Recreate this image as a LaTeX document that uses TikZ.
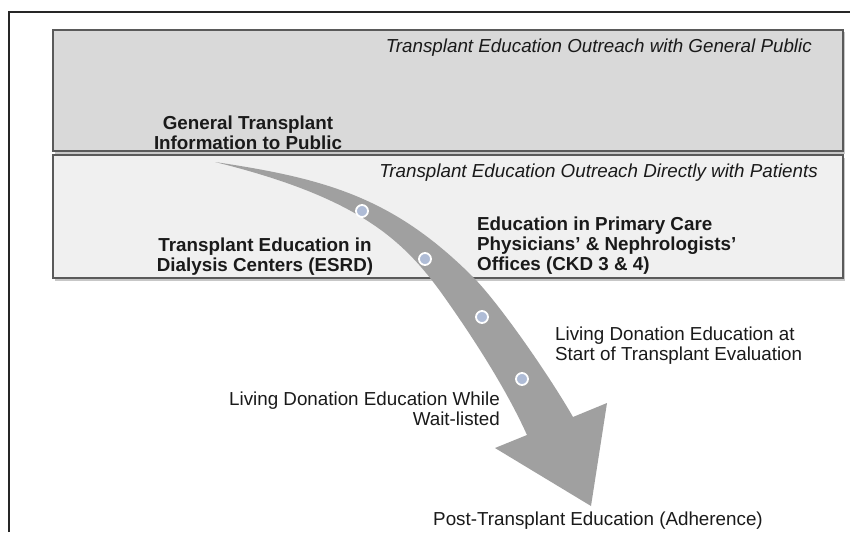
\documentclass[tikz,border=0pt]{standalone}
\usepackage{fontspec}
\setmainfont{Liberation Sans}
\definecolor{upperfill}{HTML}{D9D9D9}
\definecolor{lowerfill}{HTML}{F0F0F0}
\definecolor{boxline}{HTML}{5A5A5A}
\definecolor{arrowgray}{HTML}{A0A0A0}
\definecolor{dotblue}{HTML}{AFBCD6}
\definecolor{frameline}{HTML}{262626}
\definecolor{txt}{HTML}{1A1A1A}
\begin{document}
\begin{tikzpicture}[x=1pt,y=-1pt,
  panel/.style={draw=boxline, line width=1.2pt},
  shadowbox/.style={fill=black, opacity=0.22},
  band/.style={fill=arrowgray},
  dotmark/.style={circle, fill=dotblue, draw=white, line width=1.8pt, minimum size=12pt, inner sep=0pt},
  lbl/.style={inner sep=0pt, text=txt, font=\fontsize{18.8}{20}\selectfont},
  ital/.style={lbl, font=\fontsize{18.8}{20}\selectfont\itshape},
  bld/.style={lbl, font=\fontsize{18.8}{20}\selectfont\bfseries}]
\useasboundingbox (0,0) rectangle (850,532);
\fill[white] (0,0) rectangle (850,532);
% outer frame
\draw[frameline, line width=1.4pt] (9,532) -- (9,12) -- (850,12);
% shadows
\fill[shadowbox] (54.5,32.5) rectangle (844.5,153.5);
\fill[shadowbox] (54.5,157.5) rectangle (844.5,280.5);
% panels
\filldraw[panel, fill=upperfill] (53,30) rectangle (843,151);
\filldraw[panel, fill=lowerfill] (53,155) rectangle (843,278);
% curved arrow
\fill[band] (215,162) .. controls (325,178.5) and (393,197) .. (473,277)
  .. controls (498,302) and (548,373.5) .. (573,417)
  -- (607,403) -- (591,506) -- (495,448) -- (527,435)
  .. controls (506.5,389.5) and (473.9,338.9) .. (445,298)
  .. controls (404.6,240.8) and (360.5,198) .. (215,162) -- cycle;
% dots
\node[dotmark] (d1) at (362,211) {};
\node[dotmark] (d2) at (425,259) {};
\node[dotmark] (d3) at (482,317) {};
\node[dotmark] (d4) at (522,379) {};
% texts
\node[ital, anchor=base east] (t1) at (812,53) {Transplant Education Outreach with General Public};
\node[ital, anchor=base east] (t2) at (818,177) {Transplant Education Outreach Directly with Patients};
\node[bld, align=center, anchor=base] (gen) at (248,149) {General Transplant\\Information to Public};
\node[bld, align=center, anchor=base] (dial) at (265,271) {Transplant Education in\\Dialysis Centers (ESRD)};
\node[bld, align=left, anchor=base west] (prim) at (477,270) {Education in Primary Care\\Physicians’ \& Nephrologists’\\Offices (CKD 3 \& 4)};
\node[lbl, align=left, anchor=base west] (eval) at (555,360) {Living Donation Education at\\Start of Transplant Evaluation};
\node[lbl, align=right, anchor=base east] (wait) at (500,425) {Living Donation Education While\\Wait-listed};
\node[lbl, anchor=base] (post) at (598,525) {Post-Transplant Education (Adherence)};
\end{tikzpicture}
\end{document}
